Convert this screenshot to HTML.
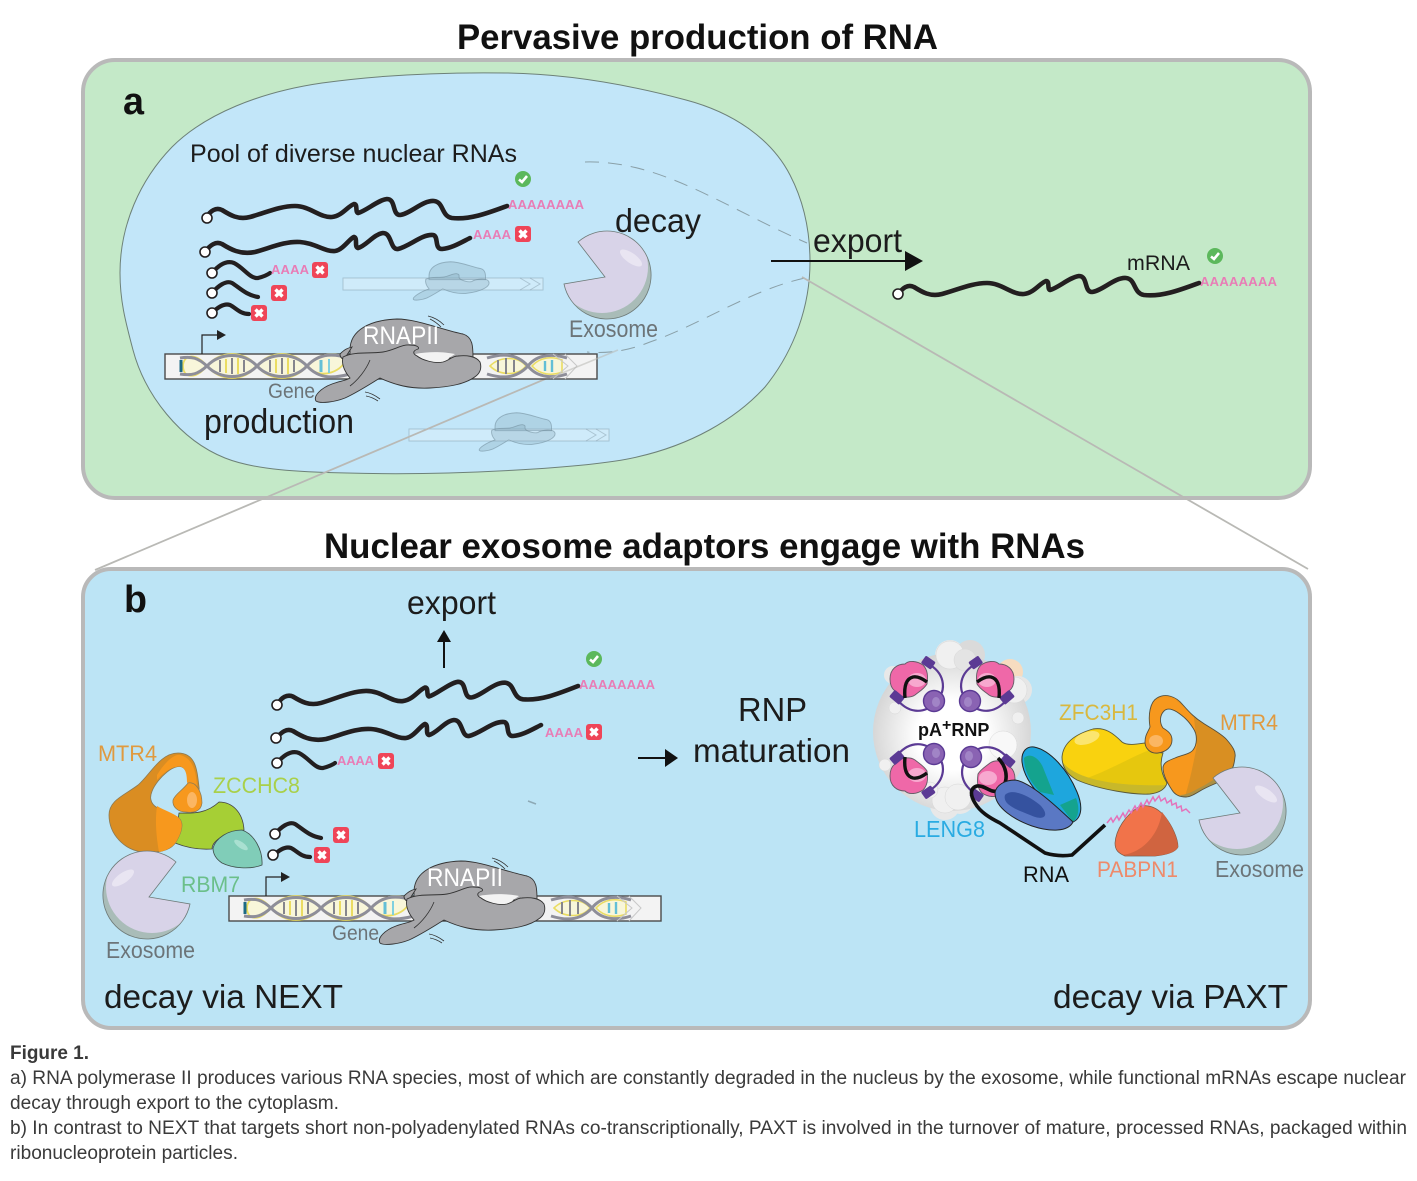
<!DOCTYPE html>
<html><head><meta charset="utf-8"><style>
html,body{margin:0;padding:0;background:#fff}
svg{display:block}
text{font-family:"Liberation Sans",sans-serif}
.p{fill:#e87db6;font-size:13px;font-weight:bold}
.g{fill:#6c7478}
</style></head><body>
<svg width="1417" height="1181" viewBox="0 0 1417 1181" xmlns="http://www.w3.org/2000/svg">
<defs>
<g id="x"><rect x="-8" y="-8" width="16" height="16" rx="3" fill="#ef4558"/><path d="M-3.5 -3.5L3.5 3.5M3.5 -3.5L-3.5 3.5" stroke="#fff" stroke-width="3.4"/></g>
<g id="c"><circle r="8" fill="#5cb85c"/><path d="M-4 0.5L-1 3L4 -3" fill="none" stroke="#fff" stroke-width="2.6"/></g>
<clipPath id="pac"><path d="M-29 -33L-2 2L-43 9A44 44 0 1 0 -29 -33Z"/></clipPath>
<clipPath id="mtrc"><path d="M1150 727C1148 715 1150 702 1157 698C1165 693 1176 696 1183 705C1190 713 1195 718 1203 723C1212 729 1222 734 1227 740C1233 747 1236 752 1235 757C1234 768 1230 775 1225 779C1218 783 1208 786 1200 791C1195 794 1190 797 1186 797C1180 797 1175 795 1172 790C1168 784 1163 775 1163 768C1163 762 1170 760 1175 758C1182 755 1190 754 1193 750C1197 745 1198 735 1193 728C1188 720 1183 716 1177 712C1172 709 1167 708 1164 711C1160 715 1159 722 1163 728C1168 731 1172 734 1172 740C1172 747 1166 752 1158 753C1150 754 1145 748 1145 742C1145 735 1148 732 1150 727Z"/></clipPath>
<clipPath id="yelc"><path d="M1062 757C1063 745 1072 735 1093 729C1105 727 1113 733 1122 742C1127 746 1138 744 1145 743C1147 748 1152 752 1163 753C1160 762 1160 772 1167 783C1165 790 1158 793 1150 794C1135 795 1100 790 1077 780C1068 775 1062 768 1062 757Z"/></clipPath>
<g id="exo">
<path d="M-29 -33L-2 2L-43 9A44 44 0 1 0 -29 -33Z" fill="#a9bcb8"/>
<g clip-path="url(#pac)"><circle cx="-5" cy="-8" r="46" fill="#d8d3e8"/><ellipse cx="24" cy="-17" rx="13" ry="5" transform="rotate(35 24 -17)" fill="#e9e5f2"/></g>
<path d="M-29 -33L-2 2L-43 9A44 44 0 1 0 -29 -33Z" fill="none" stroke="#6e7a78" stroke-width=".8"/>
</g>
<g id="pol">
<path d="M350 350C350 330 370 320 397 319C417 319 443 330 463 334C473 337 473 347 473 358L350 358Z" fill="#a7a7aa" stroke="#333" stroke-width=".9"/>
<path d="M415 354C430 351 445 352 455 354L443 362L427 362Z" fill="#f3f3f3"/>
<path d="M340 354C345 349 348 348 352 347L345 358C342 360 340 357 340 354Z" fill="#a7a7aa" stroke="#333" stroke-width=".9"/>
<path d="M343 357C355 351 370 354 383 352C395 350 402 344 410 345C416 345 420 347 418 349C412 351 413 354 417 356C422 360 435 364 443 362C450 360 452 356 458 356C466 355 476 356 480 362C482 368 480 373 476 376C466 384 450 387 430 388C410 389 395 385 380 378C370 384 358 392 345 398C335 402 320 404 316 401C313 396 321 388 332 384C340 381 345 381 350 378C345 372 341 365 343 357Z" fill="#a7a7aa" stroke="#333" stroke-width=".9"/>
<path d="M370 360C366 370 358 380 350 386" fill="none" stroke="#333" stroke-width=".8"/>
<path d="M428 316Q437 318 444 325M430 319Q436 322 441 327" fill="none" stroke="#333" stroke-width=".8"/>
<path d="M365 392Q372 393 380 399M366 396Q372 397 378 401" fill="none" stroke="#333" stroke-width=".8"/>
</g>
<g id="hel">
<path d="M207 366C220 350 244 350 257 366C270 350 294 350 307 366C318 352 335 353 346 357C346 370 320 382 307 366C294 382 270 382 257 366C244 382 220 382 207 366C195 352 183 355 183 366C183 378 195 380 207 366Z" fill="#f8f6da" stroke="#eadc62" stroke-width="1.8"/>
<path d="M226 359V373M238 358V374M276 359V373M288 358V374" stroke="#eadc62" stroke-width="2"/>
<path d="M220 360V372M232 358V374M244 360V372M270 360V372M282 358V374M294 360V372" stroke="#85858d" stroke-width="2"/>
<path d="M181 360V372" stroke="#1d6a85" stroke-width="3"/>
<path d="M321 360V372" stroke="#63bfd6" stroke-width="3"/>
<path d="M329 359V373" stroke="#7fd0e0" stroke-width="2"/>
<path d="M180 358C192 356 198 358 207 366C220 380 244 380 257 366C270 352 294 352 307 366C320 380 335 378 350 374" fill="none" stroke="#8e8e99" stroke-width="3"/>
<path d="M180 374C192 376 198 374 207 366C220 352 244 352 257 366C270 380 294 380 307 366C320 352 335 354 350 358" fill="none" stroke="#8e8e99" stroke-width="3"/>
<path d="M490 366C500 356 518 356 526 366C518 376 500 376 490 366ZM532 366C540 357 552 356 562 360V372C552 376 540 375 532 366Z" fill="#f8f6da" stroke="#eadc62" stroke-width="1.6"/>
<path d="M498 360V372M506 358V374M514 360V372" stroke="#85858d" stroke-width="2"/>
<path d="M545 361V371M552 360V372" stroke="#63bfd6" stroke-width="2.4"/>
<path d="M528 366C515 352 500 354 487 358M528 366C515 380 500 378 487 374M528 366C538 353 555 354 567 358M528 366C538 379 555 378 567 374" fill="none" stroke="#8e8e99" stroke-width="3"/>
</g>
<g id="gene">
<rect x="165" y="354" width="432" height="25" fill="#f3f3f3" stroke="#4a4a4a" stroke-width="1.4"/>
<use href="#hel"/>
<path d="M553 354L568 366L553 379M565 354L577 366L565 379" fill="none" stroke="#c8c8c8" stroke-width="1"/>
<path d="M202 354V335H217" fill="none" stroke="#222" stroke-width="1.2"/>
<path d="M217 330L226 335L217 340Z" fill="#222"/>
<use href="#pol"/>
<text x="363" y="344" fill="#fff" font-size="25" textLength="76" lengthAdjust="spacingAndGlyphs">RNAPII</text>
<text x="268" y="398" class="g" font-size="21" textLength="47" lengthAdjust="spacingAndGlyphs">Gene</text>
</g>
<g id="faint">
<rect x="343" y="278" width="200" height="12" fill="#fff" fill-opacity=".22" stroke="#7f97a3" stroke-opacity=".45" stroke-width="1"/>
<path d="M520 278L530 284L520 290M530 278L540 284L530 290" fill="none" stroke="#7f97a3" stroke-opacity=".45" stroke-width="1"/>
<g transform="translate(268,115) scale(.46)" fill="#7fa2b5" fill-opacity=".28" stroke="#6f8a99" stroke-opacity=".55" stroke-width="2"><path d="M350 350C350 330 370 320 397 319C417 319 443 330 463 334C473 337 473 347 473 358L350 358Z"/><path d="M343 357C355 351 370 354 383 352C395 350 402 344 410 345C420 347 412 351 417 356C422 360 435 364 443 362C452 356 476 354 480 362C484 372 466 384 430 388C410 389 395 385 380 378C370 384 358 392 345 398C335 402 320 404 316 401C313 396 332 384 350 378C345 372 341 365 343 357Z"/></g>
</g>
<path id="r1" d="M207 217C210 211 216 207 222 210C230 215 238 220 250 217C265 213 280 206 295 206C310 206 320 218 332 217C342 216 348 206 354 204C358 204 355 212 358 213C366 211 378 200 387 199C396 199 392 215 400 215C410 214 423 200 434 201C444 202 441 216 452 218C470 220 488 213 507 206" fill="none" stroke="#231f20" stroke-width="4.6" stroke-linecap="round"/>
<path id="r2" d="M205 252C210 245 216 241 222 244C230 249 240 255 255 252C270 248 285 241 300 242C315 243 325 252 335 251C343 250 350 238 354 237C358 238 354 247 358 248C366 246 374 234 383 233C392 233 390 250 398 249C410 246 422 234 433 235C439 236 434 249 442 249C452 248 460 243 470 238" fill="none" stroke="#231f20" stroke-width="4.6" stroke-linecap="round"/>
<path id="s1" d="M212 273C218 266 226 260 234 263C244 268 250 279 258 278C262 277 266 276 270 273" fill="none" stroke="#231f20" stroke-width="4.2" stroke-linecap="round"/>
<path id="s2" d="M212 293C218 286 226 280 232 283C240 288 246 295 258 297" fill="none" stroke="#231f20" stroke-width="4.2" stroke-linecap="round"/>
<path id="s3" d="M212 313C218 307 224 303 230 305C236 308 240 314 249 314" fill="none" stroke="#231f20" stroke-width="4.2" stroke-linecap="round"/>
<circle id="cap" r="5" fill="#fff" stroke="#231f20" stroke-width="1.6"/>
<g id="hisb">
<path d="M-27 -6C-27 -16 -20 -21 -12 -21C-8 -25 0 -24 6 -20C11 -15 11 -8 10 -1C7 4 3 6 -2 10C-8 14 -18 12 -22 6C-26 3 -27 -2 -27 -6Z" fill="#ef68a8" stroke="#655a66" stroke-width=".9"/>
<ellipse cx="0" cy="-5" rx="9" ry="7" fill="#f7a8cf"/>
<path d="M11 -21C26 -14 32 4 18 18C6 30 -10 28 -21 13" fill="none" stroke="#5b3a94" stroke-width="2.2"/>
<rect x="5" y="-27" width="12" height="9" rx="1.5" transform="rotate(35 11 -22)" fill="#5b3a94"/>
<rect x="-27" y="8" width="13" height="9" rx="1.5" transform="rotate(40 -20 13)" fill="#5b3a94"/>
<circle cx="17" cy="16" r="10.5" fill="#8a63b3" stroke="#5b3a94" stroke-width="1.4"/>
<ellipse cx="19" cy="17" rx="4" ry="5" fill="#a184c6"/>
</g>
<path id="blk" d="M-12 13C-13 3 -12 -6 -4 -8C1 -9 6 -6 10 -3" fill="none" stroke="#111" stroke-width="3.4"/>
</defs>

<rect width="1417" height="1181" fill="#fff"/>
<text x="457" y="49" font-size="35" font-weight="bold" fill="#111" textLength="481" lengthAdjust="spacingAndGlyphs">Pervasive production of RNA</text>

<rect x="83" y="60" width="1227" height="438" rx="32" fill="#c4e9c8" stroke="#b9b9b9" stroke-width="4"/>
<path d="M120 273C120 225 140 180 172 147C205 114 260 92 322 83C380 75 440 72 507 73C570 74 630 85 686 100C735 113 772 140 790 175C803 200 810 230 810 262C810 305 795 350 765 387C735 420 690 445 637 457C590 468 450 476 347 473C300 472 255 470 225 458C180 440 145 395 133 350C125 320 120 300 120 273Z" fill="#c2e6f9" stroke="#6d8178" stroke-width="1"/>
<text x="123" y="114" font-size="38" font-weight="bold" fill="#111" textLength="21" lengthAdjust="spacingAndGlyphs">a</text>
<text x="190" y="162" font-size="25" fill="#1c1c1c" textLength="327" lengthAdjust="spacingAndGlyphs">Pool of diverse nuclear RNAs</text>

<use href="#faint"/>
<use href="#faint" transform="translate(66,151)"/>
<path d="M585 162C660 160 720 205 807 243M805 278C750 290 700 325 650 342C630 350 610 354 587 352" fill="none" stroke="#8aa0a8" stroke-width="1" stroke-dasharray="14 9"/>
<path d="M802 277L1308 569M550 377L95 570" fill="none" stroke="#b9b9b5" stroke-width="1.8"/>

<use href="#r1"/><use href="#r2"/><use href="#s1"/><use href="#s2"/><use href="#s3"/>
<use href="#cap" x="207" y="218"/><use href="#cap" x="205" y="252"/><use href="#cap" x="212" y="273"/><use href="#cap" x="212" y="293"/><use href="#cap" x="212" y="313"/>
<text class="p" x="508" y="209" textLength="76">AAAAAAAA</text>
<text class="p" x="473" y="239" textLength="38">AAAA</text>
<text class="p" x="271" y="274" textLength="38">AAAA</text>
<use href="#c" x="523" y="179"/><use href="#x" x="523" y="234"/><use href="#x" x="320" y="270"/><use href="#x" x="279" y="293"/><use href="#x" x="259" y="313"/>

<use href="#exo" transform="translate(607,275)"/>
<text x="615" y="232" font-size="33" fill="#1c1c1c" textLength="86" lengthAdjust="spacingAndGlyphs">decay</text>
<text x="569" y="337" class="g" font-size="24" textLength="89" lengthAdjust="spacingAndGlyphs">Exosome</text>
<use href="#gene"/>
<path d="M618 350L550 378" stroke="#b9b9b5" stroke-width="1.6" opacity=".55"/>
<text x="204" y="433" font-size="34" fill="#1c1c1c" textLength="150" lengthAdjust="spacingAndGlyphs">production</text>

<path d="M771 261H906" stroke="#111" stroke-width="2"/><path d="M905 251L923 261L905 271Z" fill="#111"/>
<text x="813" y="252" font-size="33" fill="#1c1c1c" textLength="89" lengthAdjust="spacingAndGlyphs">export</text>
<use href="#r1" transform="translate(692,77)"/><use href="#cap" x="898" y="294"/>
<text x="1127" y="270" font-size="21" fill="#1c1c1c" textLength="63" lengthAdjust="spacingAndGlyphs">mRNA</text>
<text class="p" x="1200" y="286" textLength="77">AAAAAAAA</text>
<use href="#c" x="1215" y="256"/>

<text x="324" y="558" font-size="35" font-weight="bold" fill="#111" textLength="761" lengthAdjust="spacingAndGlyphs">Nuclear exosome adaptors engage with RNAs</text>

<rect x="83" y="569" width="1227" height="459" rx="28" fill="#bce4f5" stroke="#b9b9b9" stroke-width="4"/>
<text x="124" y="612" font-size="38" font-weight="bold" fill="#111" textLength="23" lengthAdjust="spacingAndGlyphs">b</text>
<text x="407" y="614" font-size="33" fill="#1c1c1c" textLength="89" lengthAdjust="spacingAndGlyphs">export</text>
<path d="M444 668V640" stroke="#111" stroke-width="2"/><path d="M437 642L444 630L451 642Z" fill="#111"/>

<use href="#r1" transform="matrix(1,-.023,0,1,71,491.7)"/>
<use href="#r2" transform="translate(71,487)"/>
<use href="#s1" transform="translate(65,490)"/>
<use href="#s2" transform="translate(63,541)"/>
<use href="#s3" transform="translate(61,543)"/>
<use href="#cap" x="277" y="705"/><use href="#cap" x="276" y="738"/><use href="#cap" x="277" y="763"/><use href="#cap" x="275" y="834"/><use href="#cap" x="273" y="855"/>
<text class="p" x="579" y="689" textLength="76">AAAAAAAA</text>
<text class="p" x="545" y="737" textLength="38">AAAA</text>
<text class="p" x="337" y="765" textLength="37">AAAA</text>
<use href="#c" x="594" y="659"/><use href="#x" x="594" y="732"/><use href="#x" x="386" y="761"/><use href="#x" x="341" y="835"/><use href="#x" x="322" y="855"/>

<path d="M638 758H666" stroke="#111" stroke-width="2"/><path d="M665 749L678 758L665 767Z" fill="#111"/>
<text x="738" y="721" font-size="33" fill="#1c1c1c" textLength="69" lengthAdjust="spacingAndGlyphs">RNP</text>
<text x="693" y="762" font-size="33" fill="#1c1c1c" textLength="157" lengthAdjust="spacingAndGlyphs">maturation</text>

<!-- NEXT complex -->
<path d="M179 813C190 813 205 815 219 802C232 802 243 812 244 830L225 835C215 840 212 845 212 849C198 850 185 847 175 843Z" fill="#a6cf35" stroke="#444" stroke-width=".8"/>
<path d="M109 815C109 800 125 795 138 785C150 775 160 753 178 753C196 753 197 770 199 787C200 795 195 797 186 803L180 800C186 792 190 788 188 780C187 768 182 765 176 767C165 770 148 790 151 800C153 810 170 812 179 818C184 823 182 832 176 842C170 852 155 853 142 852C125 850 109 835 109 815Z" fill="#da8d22" stroke="#8a7a55" stroke-width=".8"/>
<path d="M157 806C165 811 174 813 179 818C184 823 182 832 176 842C172 848 165 851 159 852C156 835 155 820 157 806ZM157 775C165 762 174 754 180 755C193 758 196 772 197 786C194 790 190 790 187 782C187 768 182 765 176 767C170 768 163 773 157 780Z" fill="#f7981d"/>
<path d="M173 800C175 794 183 790 188 783C196 781 202 792 202 803C201 812 193 813 186 812C178 812 172 807 173 800Z" fill="#f7981d" stroke="#8a7a55" stroke-width=".7"/>
<ellipse cx="192" cy="800" rx="5" ry="8" fill="#fbb663"/>
<path d="M213 848C216 838 228 830 242 830C254 834 263 850 262 865C250 870 232 868 222 863C216 859 213 854 213 848Z" fill="#80cdb8" stroke="#3e4f4a" stroke-width=".8"/>
<ellipse cx="241" cy="845" rx="8" ry="3" transform="rotate(35 241 845)" fill="#a9e0d1"/>
<use href="#exo" transform="translate(147,895) scale(-1,1)"/>
<text x="98" y="761" font-size="22" fill="#e09a3f" textLength="59" lengthAdjust="spacingAndGlyphs">MTR4</text>
<text x="213" y="793" font-size="22" fill="#a9d04a" textLength="87" lengthAdjust="spacingAndGlyphs">ZCCHC8</text>
<text x="181" y="892" font-size="22" fill="#6bbf8a" textLength="59" lengthAdjust="spacingAndGlyphs">RBM7</text>
<text x="106" y="958" class="g" font-size="23" textLength="89" lengthAdjust="spacingAndGlyphs">Exosome</text>
<use href="#gene" transform="translate(64,542)"/>
<text x="104" y="1008" font-size="33" fill="#1c1c1c" textLength="239" lengthAdjust="spacingAndGlyphs">decay via NEXT</text>
<text x="1053" y="1008" font-size="33" fill="#1c1c1c" textLength="235" lengthAdjust="spacingAndGlyphs">decay via PAXT</text>
<path d="M528 801L536 804" stroke="#8da9b5" stroke-width="1.5"/>

<!-- RNP -->
<radialGradient id="sp" cx=".5" cy=".52" r=".55"><stop offset=".4" stop-color="#fff"/><stop offset="1" stop-color="#d0d0d0"/></radialGradient>
<circle cx="1010" cy="672" r="13" fill="#f7dcc0"/>
<g fill="#e8e8e8"><circle cx="950" cy="655" r="15"/><circle cx="970" cy="655" r="15" fill="#dadada"/><circle cx="1018" cy="690" r="14" fill="#e6e6e6"/><circle cx="893" cy="675" r="9"/><circle cx="945" cy="805" r="15"/><circle cx="960" cy="800" r="14"/><circle cx="1005" cy="745" r="14"/></g>
<circle cx="952" cy="732" r="79" fill="url(#sp)"/>
<g fill="#f0f0f0" stroke="#d8d8d8" stroke-width=".5"><circle cx="950" cy="655" r="14"/><circle cx="965" cy="660" r="11" fill="#e4e4e4"/><circle cx="1014" cy="690" r="13"/><circle cx="1003" cy="745" r="14" fill="#f8f8f8"/><circle cx="945" cy="800" r="13"/><circle cx="958" cy="797" r="13"/><circle cx="895" cy="708" r="6"/><circle cx="1018" cy="718" r="6"/><circle cx="885" cy="765" r="6"/><circle cx="930" cy="790" r="8"/><circle cx="975" cy="705" r="5"/></g>
<g transform="translate(917,685)"><use href="#hisb"/><use href="#blk"/></g>
<g transform="translate(987,685) scale(-1,1)"><use href="#hisb"/><use href="#blk"/></g>
<g transform="translate(917,770) scale(1,-1)"><use href="#hisb"/><use href="#blk"/></g>
<use href="#hisb" transform="translate(988,773) scale(-1,-1)"/>
<text x="918" y="736" font-size="18" font-weight="bold" fill="#111">pA<tspan dy="-6" font-size="16">+</tspan><tspan dy="6">RNP</tspan></text>
<path d="M998 758C1008 768 1010 785 997 791C990 793 985 785 977 786C970 788 970 795 975 803C980 812 990 818 1000 823L1045 853C1055 856 1065 856 1072 855L1105 825" fill="none" stroke="#111" stroke-width="3.6"/>
<path d="M1022 762C1021 751 1027 746 1034 747C1050 750 1068 770 1077 792C1083 806 1082 818 1073 822C1055 810 1025 788 1022 762Z" fill="#1ea6dd" stroke="#222" stroke-width="1"/>
<path d="M1024 758C1030 752 1040 758 1044 770L1054 795L1040 792C1030 782 1024 770 1024 758ZM1060 805L1073 822C1080 815 1079 806 1076 798Z" fill="#14a38e"/>
<path d="M995 793C996 785 1005 780 1015 780C1030 782 1055 805 1073 822C1068 832 1050 832 1032 826C1015 820 995 808 995 793Z" fill="#5a78c4" stroke="#222" stroke-width="1"/>
<path d="M1005 795C1012 788 1028 795 1040 805C1050 815 1045 822 1030 815C1018 810 1002 805 1005 795Z" fill="#35529f"/>
<text x="914" y="837" font-size="23" fill="#29abe2" textLength="71" lengthAdjust="spacingAndGlyphs">LENG8</text>
<text x="1023" y="882" font-size="22" fill="#111" textLength="46" lengthAdjust="spacingAndGlyphs">RNA</text>

<g clip-path="url(#yelc)"><rect x="1055" y="720" width="120" height="80" fill="#f9d20f"/><path d="M1087 778C1110 770 1135 755 1150 750L1175 750V800H1087Z" fill="#e6c70e"/><path d="M1060 758C1070 778 1110 787 1170 785V800H1060Z" fill="#c8b82a"/><ellipse cx="1087" cy="738" rx="13" ry="6" transform="rotate(-18 1087 738)" fill="#fbe56f"/></g>
<path d="M1062 757C1063 745 1072 735 1093 729C1105 727 1113 733 1122 742C1127 746 1138 744 1145 743C1147 748 1152 752 1163 753C1160 762 1160 772 1167 783C1165 790 1158 793 1150 794C1135 795 1100 790 1077 780C1068 775 1062 768 1062 757Z" fill="none" stroke="#5a5a3a" stroke-width=".9"/>
<g clip-path="url(#mtrc)"><rect x="1140" y="690" width="100" height="110" fill="#f7981d"/><path d="M1192 700L1250 700V800H1184C1190 780 1192 770 1197 745Z" fill="#d98f22"/><path d="M1240 752C1236 770 1220 775 1205 785C1195 790 1188 795 1180 795L1186 800L1240 795Z" fill="#ab9044"/><path d="M1150 705C1160 692 1178 696 1190 712L1176 700C1165 695 1155 697 1150 705Z" fill="#d98f22"/><ellipse cx="1156" cy="741" rx="7" ry="6" fill="#fbb663"/></g>
<path d="M1150 727C1148 715 1150 702 1157 698C1165 693 1176 696 1183 705C1190 713 1195 718 1203 723C1212 729 1222 734 1227 740C1233 747 1236 752 1235 757C1234 768 1230 775 1225 779C1218 783 1208 786 1200 791C1195 794 1190 797 1186 797C1180 797 1175 795 1172 790C1168 784 1163 775 1163 768C1163 762 1170 760 1175 758C1182 755 1190 754 1193 750C1197 745 1198 735 1193 728C1188 720 1183 716 1177 712C1172 709 1167 708 1164 711C1160 715 1159 722 1163 728C1168 731 1172 734 1172 740C1172 747 1166 752 1158 753C1150 754 1145 748 1145 742C1145 735 1148 732 1150 727Z" fill="none" stroke="#55503e" stroke-width=".9"/>
<path d="M1115 843C1116 830 1125 815 1140 806C1152 804 1160 810 1166 818C1172 826 1178 838 1178 847C1175 853 1165 855 1155 856L1125 856C1118 853 1115 850 1115 843Z" fill="#f1734a" stroke="#7a5a48" stroke-width=".7"/>
<path d="M1162 812C1170 822 1178 838 1178 847C1175 853 1165 855 1155 856L1122 855C1140 853 1158 838 1162 812Z" fill="#d06440"/>
<path d="M1107 823L1111 818L1113 822L1117 816L1119 820L1123 813L1125 817L1129 810L1131 813L1135 806L1137 810L1141 803L1143 807L1147 800L1149 804L1153 797L1155 801L1159 796L1161 801L1165 798L1167 803L1171 800L1172 805L1176 803L1177 808L1181 806L1182 811L1186 809L1190 813" fill="none" stroke="#e472ba" stroke-width="1.5"/>
<use href="#exo" transform="translate(1242,811)"/>
<text x="1059" y="720" font-size="22" fill="#d9b83e" textLength="79" lengthAdjust="spacingAndGlyphs">ZFC3H1</text>
<text x="1220" y="730" font-size="22" fill="#e09a3f" textLength="58" lengthAdjust="spacingAndGlyphs">MTR4</text>
<text x="1097" y="877" font-size="22" fill="#ee8a6a" textLength="81" lengthAdjust="spacingAndGlyphs">PABPN1</text>
<text x="1215" y="877" class="g" font-size="23" textLength="89" lengthAdjust="spacingAndGlyphs">Exosome</text>

<!-- caption -->
<g font-size="19" fill="#3a3a3a">
<text x="10" y="1059" font-weight="bold" textLength="79" lengthAdjust="spacingAndGlyphs">Figure 1.</text>
<text x="10" y="1084" textLength="1396" lengthAdjust="spacingAndGlyphs">a) RNA polymerase II produces various RNA species, most of which are constantly degraded in the nucleus by the exosome, while functional mRNAs escape nuclear</text>
<text x="10" y="1109" textLength="329" lengthAdjust="spacingAndGlyphs">decay through export to the cytoplasm.</text>
<text x="10" y="1134" textLength="1397" lengthAdjust="spacingAndGlyphs">b) In contrast to NEXT that targets short non-polyadenylated RNAs co-transcriptionally, PAXT is involved in the turnover of mature, processed RNAs, packaged within</text>
<text x="10" y="1159" textLength="228" lengthAdjust="spacingAndGlyphs">ribonucleoprotein particles.</text>
</g>
</svg>
</body></html>
